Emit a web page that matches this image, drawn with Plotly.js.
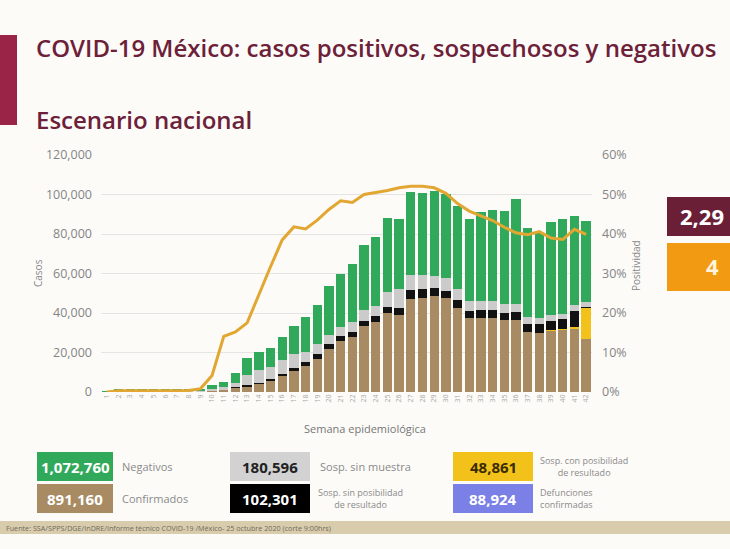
<!DOCTYPE html>
<html>
<head>
<meta charset="utf-8">
<script src="https://cdn.plot.ly/plotly-3.0.1.min.js"></script>
<style>
html,body{margin:0;padding:0;background:#fcfbf8;}
#chart{width:730px;height:549px;}
</style>
</head>
<body>
<div id="chart"></div>
<script>
// ---------- Data ----------
const semanas = [1,2,3,4,5,6,7,8,9,10,11,12,13,14,15,16,17,18,19,20,21,22,23,24,25,26,27,28,29,30,31,32,33,34,35,36,37,38,39,40,41,42];
const confirmados = [0,0,0,0,0,0,0,0,10,300,800,1800,2700,3900,5800,8100,10800,13400,16800,21800,25900,27900,33300,35400,40000,39100,47000,47500,48800,47700,42700,37500,37600,37700,36300,36300,30600,30100,31000,31500,32000,26600];
const sospConPosibilidad = [0,0,0,0,0,0,0,0,0,0,0,0,0,0,0,0,0,0,0,0,0,0,0,0,0,0,0,0,0,0,0,0,0,0,0,0,0,0,200,300,1000,15700];
const sospSinPosibilidad = [0,0,0,0,0,0,0,0,0,100,200,600,900,900,800,1100,1300,2000,2300,2400,2500,2500,2600,2900,3000,3400,4600,4500,4000,3500,3800,3400,3800,4000,3800,4200,4000,4200,4800,5000,7900,600];
const sospSinMuestra = [100,400,400,400,400,400,400,400,300,1100,1300,2400,5000,6300,6000,7000,6900,4800,5400,4500,4500,5000,5400,5500,7600,9700,7700,7300,5800,6500,5900,5000,4500,4300,4600,4100,3400,3300,3000,2900,3400,2600];
const negativos = [200,1100,1200,1200,1100,1100,1100,1100,1200,2000,3000,4900,8500,9100,9600,11800,14400,17900,19800,25000,26900,29300,33300,34600,37600,35400,42200,41700,43100,42800,41600,41500,45200,46000,46900,52900,45000,42900,47000,48100,45000,41100];
const positividad = [0,0.003,0.003,0.003,0.003,0.003,0.003,0.004,0.008,0.042,0.141,0.152,0.175,0.247,0.317,0.385,0.418,0.413,0.435,0.462,0.484,0.480,0.500,0.505,0.510,0.517,0.521,0.521,0.517,0.503,0.477,0.458,0.447,0.434,0.417,0.403,0.398,0.406,0.390,0.386,0.412,0.399];
const yTicks = [0,20000,40000,60000,80000,100000,120000];
const y2Ticks = [0,0.1,0.2,0.3,0.4,0.5,0.6];
const resumenValores = ["1,072,760","891,160","180,596","102,301","48,861","88,924"];
const resumenEtiquetas = ["Negativos","Confirmados","Sosp. sin muestra","Sosp. sin posibilidad<br>de resultado","Sosp. con posibilidad<br>de resultado","Defunciones<br>confirmadas"];

// ---------- Layout helpers (pixel -> paper) ----------
const L = 101, R = 592, T = 155, B = 392;
const px = x => (x - L) / (R - L);
const py = y => (B - y) / (B - T);

const C = {
  conf: '#a88b62', yellow: '#f2c21b', black: '#121212', grey: '#cbcbcb', green: '#31a95a',
  line: '#e2a632', maroon: '#6d2139', purple: '#7b80e6'
};

function barTrace(name, vals, color){
  return {type:'bar', name, x: semanas, y: vals, marker:{color, line:{width:0}}, hoverinfo:'skip'};
}

const traces = [
  barTrace('Confirmados', confirmados, C.conf),
  barTrace('Sosp. con posibilidad de resultado', sospConPosibilidad, C.yellow),
  barTrace('Sosp. sin posibilidad de resultado', sospSinPosibilidad, C.black),
  barTrace('Sosp. sin muestra', sospSinMuestra, C.grey),
  barTrace('Negativos', negativos, C.green),
  {type:'scatter', mode:'lines', name:'Positividad', x: semanas, y: positividad, yaxis:'y2',
   line:{color:C.line, width:3}, hoverinfo:'skip'}
];

const font = 'Open Sans, Lato, sans-serif';
const shapes = [];
const annotations = [];

function rect(x0,y0,x1,y1,color){
  shapes.push({type:'rect', xref:'paper', yref:'paper', x0:px(x0), x1:px(x1), y0:py(y1), y1:py(y0),
    fillcolor:color, line:{width:0}, layer:'above'});
}
function text(x,y,t,opts){
  annotations.push(Object.assign({xref:'paper', yref:'paper', x:px(x), y:py(y), text:t, showarrow:false,
    xanchor:'left', yanchor:'middle', font:{family:font, size:11, color:'#888'}}, opts||{}));
}

// Header
rect(0,35,17,125,'#9a2448');
text(34,48,'COVID-19 México: casos positivos, sospechosos y negativos',{font:{family:font,size:24,color:C.maroon,weight:600}});
text(34,119,'Escenario nacional',{font:{family:font,size:24,color:C.maroon,weight:600}});

// Right side boxes
rect(667,197,740,236,'#6a1f36');
text(678,216,'2,29',{font:{family:font,size:22,color:'#ffffff',weight:700}});
rect(667,243,740,291,'#f29a12');
text(704,266,'4',{font:{family:font,size:22,color:'#fff4dc',weight:700}});

// Axis side titles
text(38,273,'Casos',{textangle:-90, xanchor:'center', font:{family:font,size:10,color:'#888'}});
text(636,266,'Positividad',{textangle:-90, xanchor:'center', font:{family:font,size:10,color:'#888'}});
text(365,428,'Semana epidemiológica',{xanchor:'center', font:{family:font,size:11,color:'#777'}});

// Summary boxes
const boxes = [
  {x0:37,y0:452,x1:113,y1:481,color:C.green,tc:'#ffffff',lx:120},
  {x0:37,y0:484,x1:113,y1:513,color:C.conf,tc:'#ffffff',lx:120},
  {x0:230,y0:452,x1:310,y1:481,color:'#d2d2d2',tc:'#222222',lx:318},
  {x0:230,y0:484,x1:310,y1:513,color:'#000000',tc:'#ffffff',lx:316},
  {x0:453,y0:452,x1:533,y1:481,color:C.yellow,tc:'#3a2c00',lx:538},
  {x0:453,y0:484,x1:533,y1:513,color:C.purple,tc:'#ffffff',lx:538}
];
boxes.forEach((b,i)=>{
  rect(b.x0,b.y0,b.x1,b.y1,b.color);
  text((b.x0+b.x1)/2,(b.y0+b.y1)/2,resumenValores[i],{xanchor:'center',font:{family:font,size:15,color:b.tc,weight:700}});
  const twoLine = resumenEtiquetas[i].indexOf('<br>')>=0;
  text(b.lx,(b.y0+b.y1)/2,resumenEtiquetas[i],{font:{family:font,size:twoLine?9:11,color:'#8a8a8a'}});
});

// Footer band
rect(0,521,730,534,'#d9ccad');
text(4,527.5,'Fuente: SSA/SPPS/DGE/InDRE/Informe técnico COVID-19 /México- 25 octubre 2020 (corte 9:00hrs)',{font:{family:font,size:7.2,color:'#6f6a5c'}});

const layout = {
  width:730, height:549,
  margin:{l:L, r:730-R, t:T, b:549-B, pad:0},
  paper_bgcolor:'#fcfbf8', plot_bgcolor:'rgba(0,0,0,0)',
  barmode:'stack', bargap:0.2, showlegend:false,
  font:{family:font, color:'#888'},
  xaxis:{range:[0.5,42.5], tickmode:'array', tickvals:semanas, ticktext:semanas.map(String),
    tickangle:-90, tickfont:{size:7,color:'#aaa'}, showgrid:false, zeroline:false, showline:false, ticks:'', fixedrange:true},
  yaxis:{range:[0,120000], tickmode:'array', tickvals:yTicks, tickformat:',', ticklabelstandoff:8,
    tickfont:{size:12.5,color:'#858585'}, gridcolor:'#e4e4e4', gridwidth:1, zeroline:false, showline:false},
  yaxis2:{range:[0,0.6], overlaying:'y', side:'right', tickmode:'array', tickvals:y2Ticks, tickformat:'.0%',
    ticklabelstandoff:9, tickfont:{size:12.5,color:'#858585'}, showgrid:false, zeroline:false, showline:false},
  shapes, annotations
};

Plotly.newPlot('chart', traces, layout, {staticPlot:true, displayModeBar:false});
</script>
</body>
</html>
